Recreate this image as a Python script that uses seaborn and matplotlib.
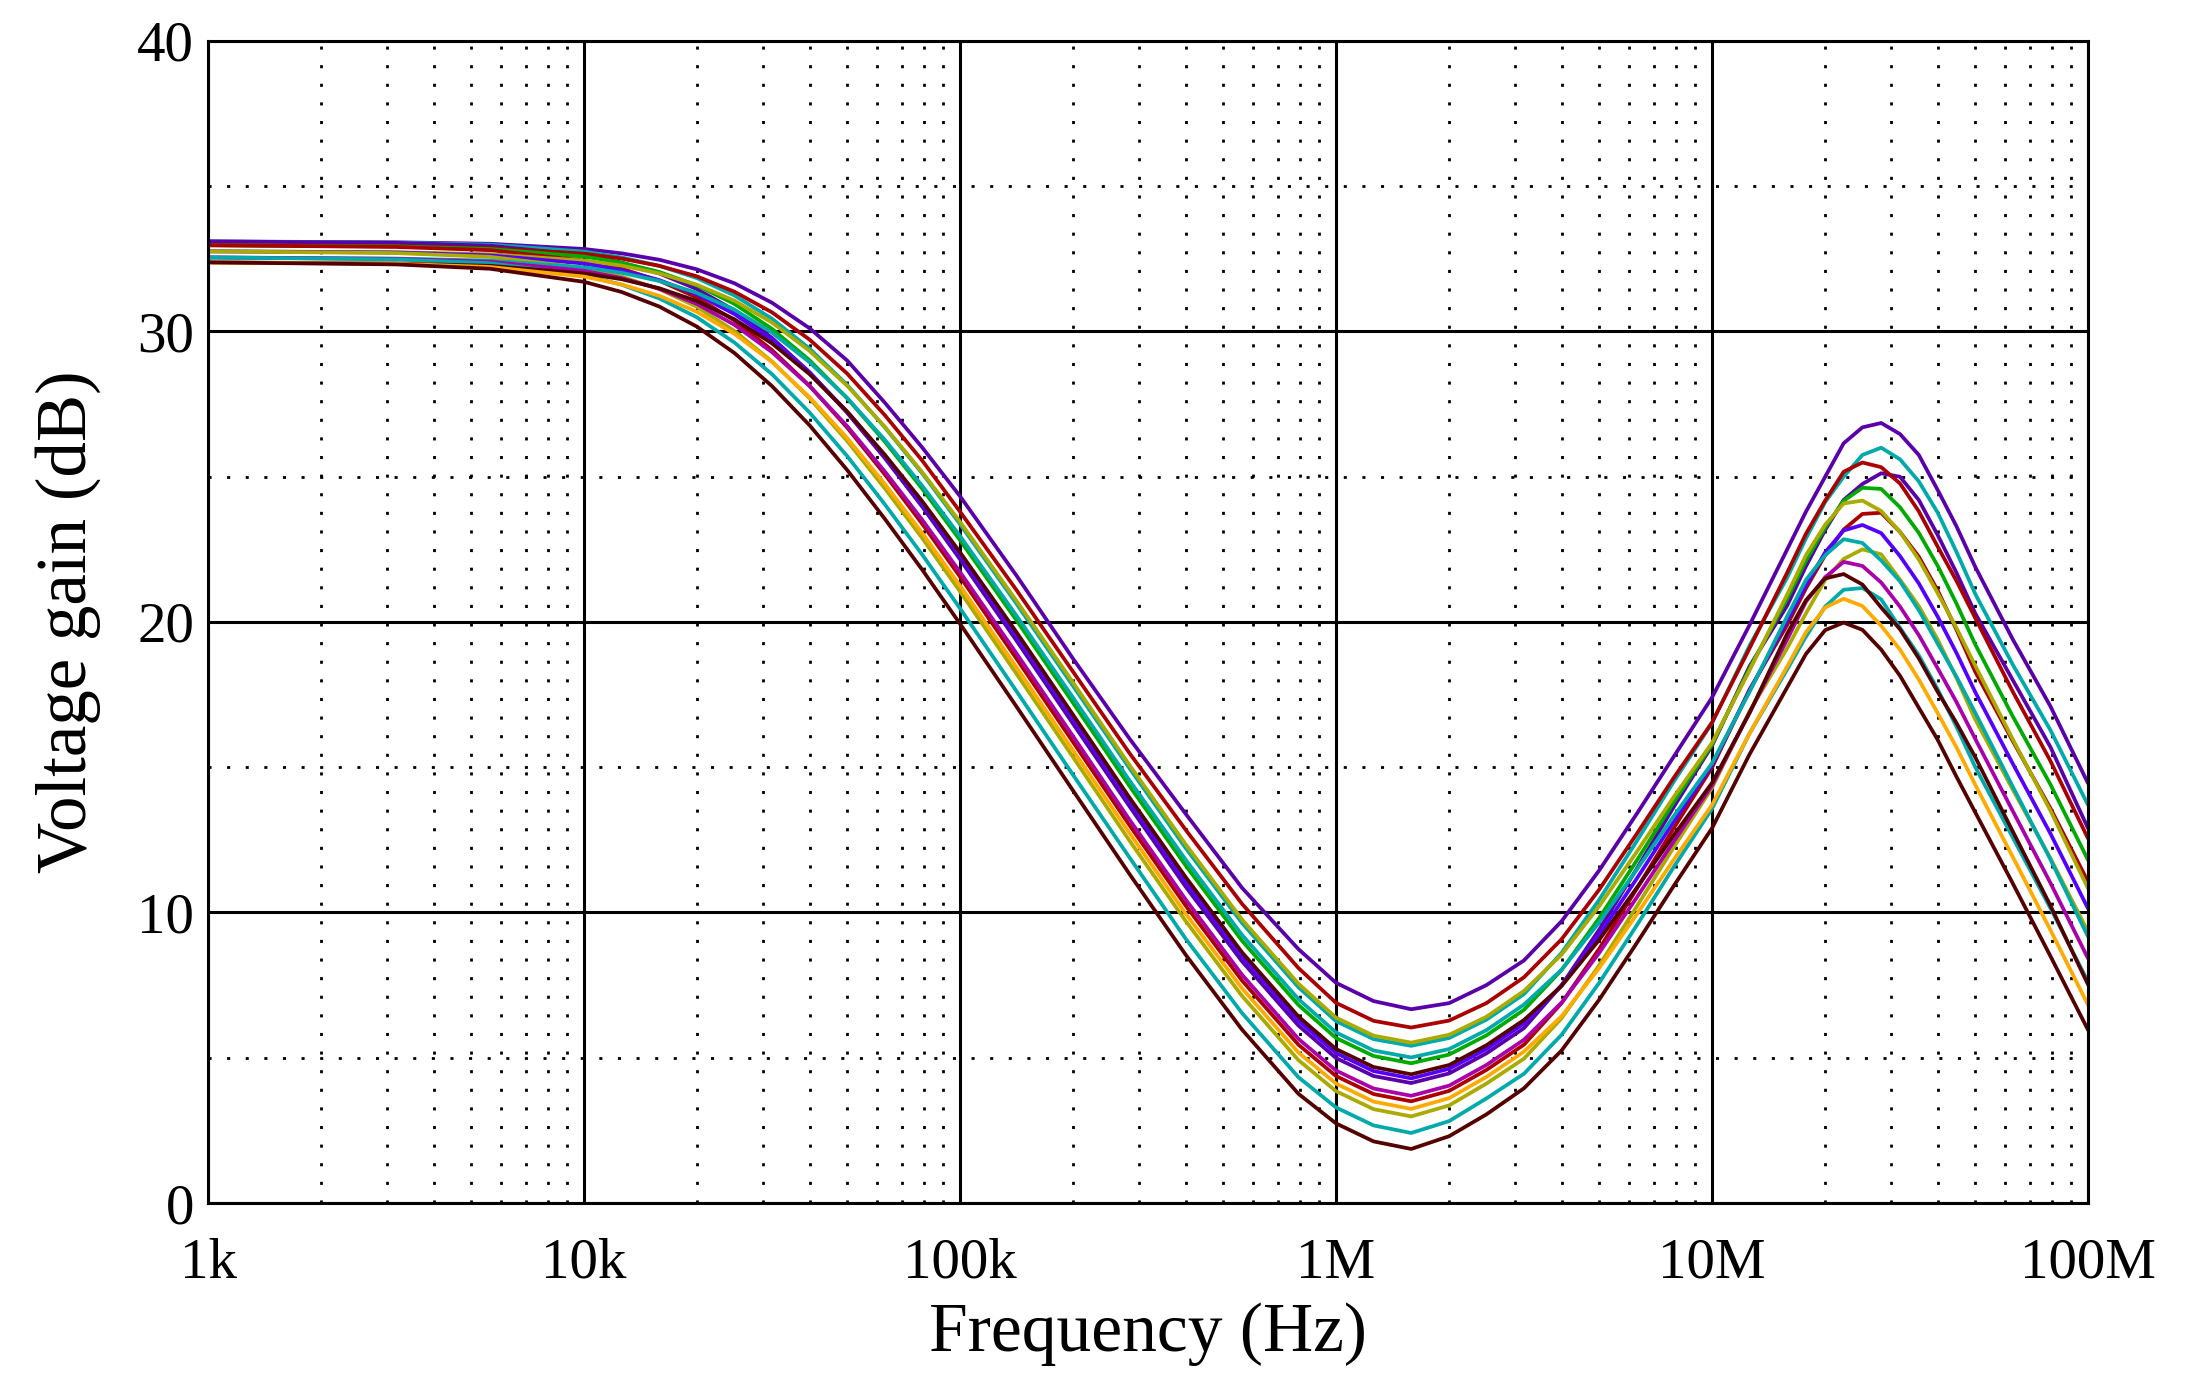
"""
Voltage gain vs frequency - family of 15 swept AC responses
Output: out.png
"""

import matplotlib
matplotlib.use('Agg')
import matplotlib.pyplot as plt
from matplotlib.ticker import LogLocator, MultipleLocator, NullFormatter
import numpy as np
import pandas as pd
import seaborn as sns

sns.set_style('white')
plt.rcParams['font.family'] = ['Liberation Serif', 'DejaVu Serif']
plt.rcParams.update({
    'text.color': 'black',
    'axes.labelcolor': 'black',
    'xtick.color': 'black',
    'ytick.color': 'black',
})

# Frequency points (Hz) shared by every trace
freq_hz = [1e3, 3.162e3, 5.623e3, 1e4, 1.259e4, 1.585e4, 1.995e4, 2.512e4, 3.162e4,
           3.981e4, 5.012e4, 6.31e4, 7.943e4, 1e5, 1.413e5, 1.995e5, 2.818e5,
           3.981e5, 5.623e5, 7.943e5, 1e6, 1.259e6, 1.585e6, 2e6, 2.512e6, 3.162e6,
           3.981e6, 5.012e6, 6.31e6, 7.943e6, 1e7, 1.259e7, 1.585e7, 1.778e7, 2e7,
           2.239e7, 2.512e7, 2.818e7, 3.162e7, 3.548e7, 3.981e7, 4.467e7, 5.012e7,
           6.31e7, 7.943e7, 1e8]

# Gain (dB), top group first
gain_01 = [33.10, 33.07, 33.02, 32.84, 32.69, 32.47, 32.14, 31.66, 30.99, 30.11, 29.00,
           27.55, 26.00, 24.33, 21.60, 18.75, 16.00, 13.40, 10.85, 8.74, 7.58, 6.95,
           6.67, 6.88, 7.50, 8.35, 9.70, 11.45, 13.40, 15.40, 17.40, 19.90, 22.50,
           23.80, 25.00, 26.15, 26.70, 26.85, 26.47, 25.75, 24.55, 23.30, 21.90, 19.40,
           17.10, 14.45]
gain_02 = [33.10, 33.06, 32.99, 32.75, 32.55, 32.26, 31.84, 31.24, 30.44, 29.41, 28.16,
           26.70, 25.11, 23.37, 20.63, 17.81, 14.98, 12.22, 9.64, 7.43, 6.26, 5.64,
           5.41, 5.68, 6.31, 7.19, 8.61, 10.44, 12.46, 14.54, 16.52, 19.19, 21.53,
           22.88, 24.13, 25.00, 25.75, 26.00, 25.60, 24.84, 23.77, 22.42, 20.97, 18.53,
           16.28, 13.70]
gain_03 = [33.10, 33.05, 32.95, 32.63, 32.37, 32.00, 31.46, 30.73, 29.78, 28.60, 27.20,
           25.64, 23.96, 22.16, 19.36, 16.51, 13.67, 10.89, 8.32, 6.11, 4.99, 4.37,
           4.13, 4.46, 5.15, 6.02, 7.50, 9.41, 11.51, 13.67, 15.74, 18.48, 20.57,
           21.92, 23.17, 24.20, 24.75, 25.12, 25.00, 24.20, 23.00, 21.70, 20.30, 18.00,
           15.70, 12.90]
gain_04 = [32.97, 32.94, 32.87, 32.68, 32.51, 32.26, 31.90, 31.37, 30.66, 29.72, 28.55,
           27.12, 25.55, 23.80, 21.10, 18.30, 15.50, 12.85, 10.30, 8.09, 6.89, 6.27,
           6.04, 6.28, 6.88, 7.77, 9.08, 10.79, 12.71, 14.67, 16.54, 19.10, 21.70,
           23.04, 24.18, 25.17, 25.49, 25.33, 24.77, 23.81, 22.60, 21.42, 20.14, 17.60,
           15.22, 12.55]
gain_05 = [32.97, 32.93, 32.84, 32.58, 32.37, 32.05, 31.59, 30.95, 30.09, 29.01, 27.70,
           26.21, 24.58, 22.82, 20.06, 17.23, 14.37, 11.62, 9.03, 6.82, 5.68, 5.06,
           4.81, 5.11, 5.77, 6.65, 8.02, 9.81, 11.79, 13.83, 15.78, 18.41, 20.80,
           22.11, 23.25, 24.17, 24.62, 24.58, 23.95, 23.07, 21.94, 20.64, 19.23, 16.75,
           14.41, 11.81]
gain_06 = [32.97, 32.91, 32.80, 32.44, 32.16, 31.75, 31.17, 30.38, 29.36, 28.13, 26.69,
           25.08, 23.37, 21.56, 18.74, 15.88, 13.02, 10.24, 7.66, 5.45, 4.37, 3.75,
           3.50, 3.86, 4.58, 5.45, 6.88, 8.75, 10.82, 12.94, 14.99, 17.68, 19.90,
           21.16, 22.30, 23.18, 23.72, 23.76, 23.10, 22.25, 21.09, 19.74, 18.29, 15.90,
           13.59, 11.06]
gain_07 = [32.76, 32.73, 32.66, 32.44, 32.27, 32.00, 31.61, 31.06, 30.31, 29.33, 28.13,
           26.72, 25.15, 23.45, 20.73, 17.93, 15.09, 12.35, 9.76, 7.55, 6.38, 5.76,
           5.52, 5.79, 6.41, 7.30, 8.55, 10.22, 12.09, 14.01, 15.84, 18.34, 20.95,
           22.30, 23.35, 24.08, 24.18, 23.82, 23.10, 22.15, 21.00, 19.80, 18.50, 15.96,
           13.51, 10.83]
gain_08 = [32.76, 32.72, 32.62, 32.34, 32.11, 31.77, 31.28, 30.60, 29.71, 28.58, 27.24,
           25.72, 24.06, 22.29, 19.51, 16.68, 13.84, 11.06, 8.49, 6.28, 5.16, 4.54,
           4.29, 4.62, 5.30, 6.18, 7.49, 9.23, 11.17, 13.16, 15.08, 17.64, 20.05,
           21.27, 22.40, 23.15, 23.34, 23.06, 22.27, 21.33, 20.19, 18.94, 17.59, 15.12,
           12.72, 10.14]
gain_09 = [32.76, 32.70, 32.57, 32.19, 31.89, 31.46, 30.85, 30.02, 28.97, 27.70, 26.23,
           24.60, 22.88, 21.05, 18.22, 15.36, 12.49, 9.71, 7.13, 4.92, 3.85, 3.23,
           2.98, 3.36, 4.11, 4.97, 6.36, 8.18, 10.21, 12.28, 14.29, 16.93, 19.10,
           20.30, 21.45, 22.17, 22.50, 22.33, 21.46, 20.55, 19.40, 18.08, 16.65, 14.23,
           11.87, 9.34]
gain_10 = [32.55, 32.51, 32.44, 32.21, 32.02, 31.74, 31.33, 30.75, 29.96, 28.94, 27.71,
           26.27, 24.68, 22.96, 20.22, 17.41, 14.56, 11.82, 9.23, 7.02, 5.87, 5.25,
           5.01, 5.30, 5.95, 6.83, 8.03, 9.66, 11.48, 13.35, 15.14, 17.60, 20.20,
           21.45, 22.30, 22.85, 22.72, 22.12, 21.40, 20.41, 19.26, 18.12, 16.88, 14.33,
           11.83, 9.17]
gain_11 = [32.55, 32.50, 32.40, 32.09, 31.84, 31.47, 30.95, 30.23, 29.29, 28.12, 26.74,
           25.18, 23.51, 21.72, 18.92, 16.08, 13.21, 10.45, 7.86, 5.65, 4.56, 3.94,
           3.69, 4.04, 4.75, 5.62, 6.90, 8.61, 10.52, 12.48, 14.37, 16.89, 19.40,
           20.70, 21.54, 22.07, 21.93, 21.36, 20.53, 19.55, 18.41, 17.25, 15.98, 13.49,
           11.02, 8.42]
gain_12 = [32.55, 32.48, 32.35, 31.93, 31.61, 31.14, 30.49, 29.62, 28.53, 27.21, 25.71,
           24.05, 22.31, 20.47, 17.62, 14.75, 11.91, 9.10, 6.54, 4.33, 3.29, 2.67,
           2.41, 2.82, 3.60, 4.45, 5.79, 7.58, 9.56, 11.60, 13.57, 16.17, 18.37,
           19.50, 20.53, 21.11, 21.17, 20.78, 19.80, 18.85, 17.69, 16.40, 15.01, 12.58,
           10.15, 7.62]
gain_13 = [32.38, 32.34, 32.26, 32.00, 31.80, 31.49, 31.05, 30.42, 29.59, 28.53, 27.24,
           25.76, 24.15, 22.40, 19.65, 16.82, 13.97, 11.22, 8.63, 6.42, 5.30, 4.68,
           4.43, 4.75, 5.43, 6.30, 7.47, 9.06, 10.85, 12.69, 14.46, 16.87, 19.60,
           20.75, 21.50, 21.65, 21.29, 20.50, 19.75, 18.75, 17.60, 16.53, 15.35, 12.79,
           10.24, 7.52]
gain_14 = [32.38, 32.33, 32.22, 31.89, 31.62, 31.23, 30.68, 29.92, 28.95, 27.74, 26.33,
           24.75, 23.05, 21.25, 18.44, 15.59, 12.75, 9.96, 7.39, 5.18, 4.11, 3.49,
           3.24, 3.61, 4.34, 5.21, 6.43, 8.09, 9.94, 11.85, 13.70, 16.17, 18.47,
           19.65, 20.50, 20.80, 20.55, 19.87, 19.05, 18.02, 16.87, 15.69, 14.40, 11.91,
           9.40, 6.82]
gain_15 = [32.38, 32.31, 32.16, 31.71, 31.36, 30.86, 30.17, 29.26, 28.12, 26.77, 25.23,
           23.55, 21.79, 19.94, 17.09, 14.21, 11.34, 8.55, 5.97, 3.76, 2.74, 2.12,
           1.86, 2.30, 3.05, 3.95, 5.25, 7.00, 8.95, 10.95, 12.90, 15.45, 17.75,
           18.90, 19.72, 19.98, 19.73, 19.05, 18.15, 17.05, 15.95, 14.68, 13.45, 11.00,
           8.50, 5.96]

curve_gains = [gain_01, gain_02, gain_03, gain_04, gain_05, gain_06, gain_07, gain_08,
               gain_09, gain_10, gain_11, gain_12, gain_13, gain_14, gain_15]
curve_names = ['run%02d' % (i + 1) for i in range(len(curve_gains))]

# trace colours (simulator palette)
PURPLE = '#5A00AA'
CYAN = '#00AAAA'
DKRED = '#AA0000'
GREEN = '#00AA00'
OLIVE = '#AAAA00'
VIOLET = '#5500FF'
MAGENTA = '#AA00AA'
BROWN = '#550000'
ORANGE = '#FFAA00'
curve_colors = [PURPLE, CYAN, PURPLE, DKRED, GREEN, DKRED, OLIVE, VIOLET, OLIVE,
                CYAN, MAGENTA, CYAN, BROWN, ORANGE, BROWN]

x_ticks = [1e3, 1e4, 1e5, 1e6, 1e7, 1e8]
x_tick_labels = ['1k', '10k', '100k', '1M', '10M', '100M']
y_ticks = [0, 10, 20, 30, 40]


def create_chart():
    frames = []
    for name, gains in zip(curve_names, curve_gains):
        frames.append(pd.DataFrame({'freq': freq_hz, 'gain': gains, 'curve': name}))
    df = pd.concat(frames, ignore_index=True)

    fig = plt.figure(figsize=(21.93, 13.84), dpi=100)
    ax = fig.add_axes([0.09485, 0.13078, 0.85727, 0.83960])
    ax.set_xscale('log')

    sns.lineplot(data=df, x='freq', y='gain', hue='curve', hue_order=curve_names,
                 palette=curve_colors, estimator=None, sort=False, linewidth=2.7,
                 legend=False, ax=ax)

    ax.set_xlim(1e3, 1e8)
    ax.set_ylim(0, 40)

    # grid: solid decades / tens, dotted minors
    ax.set_axisbelow(True)
    ax.xaxis.set_minor_locator(LogLocator(base=10, subs=np.arange(2, 10), numticks=30))
    ax.xaxis.set_minor_formatter(NullFormatter())
    ax.yaxis.set_minor_locator(MultipleLocator(5))
    ax.grid(which='major', color='black', linewidth=2.2, linestyle='-')
    ax.grid(which='minor', color='black', linewidth=2.0, linestyle=(0, (1.1, 5.6)))

    ax.set_xticks(x_ticks)
    ax.set_xticklabels(x_tick_labels)
    ax.set_yticks(y_ticks)
    ax.tick_params(which='major', direction='out', length=8, width=2.2,
                   labelsize=41, color='black')
    ax.tick_params(axis='x', which='major', pad=17)
    ax.tick_params(axis='y', which='major', pad=2)
    ax.tick_params(which='minor', length=0)

    for side in ['left', 'right', 'top', 'bottom']:
        ax.spines[side].set_color('black')
        ax.spines[side].set_linewidth(2.2)

    ax.set_xlabel('Frequency (Hz)', fontsize=50, labelpad=9)
    ax.set_ylabel('Voltage gain (dB)', fontsize=51, labelpad=26)

    fig.savefig('out.png', dpi=100)
    plt.close(fig)


if __name__ == '__main__':
    create_chart()
